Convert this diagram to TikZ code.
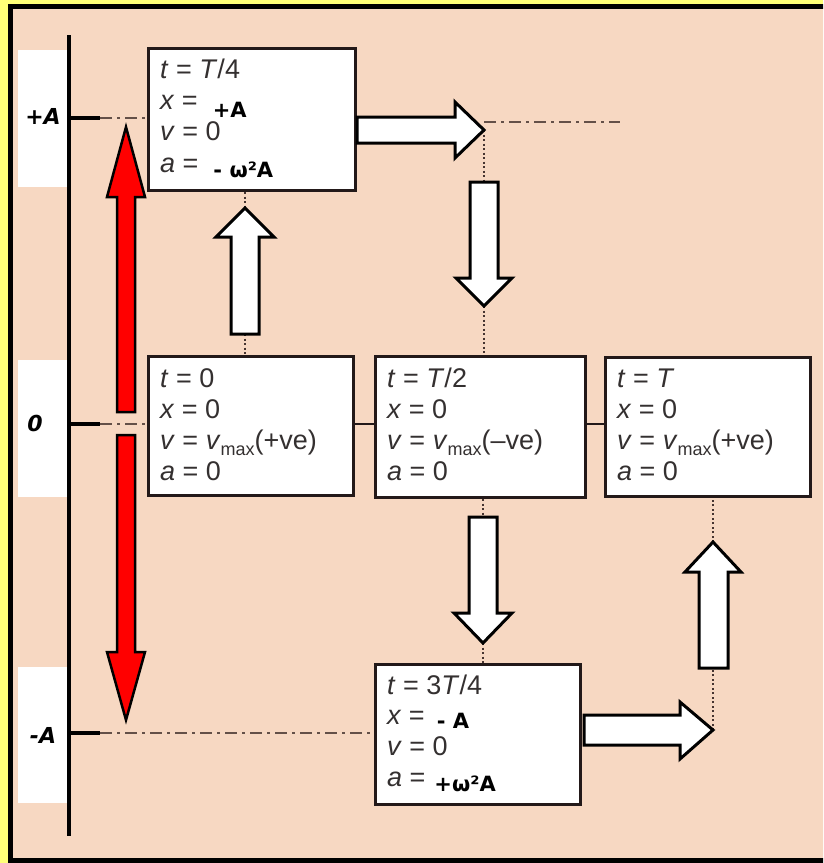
\documentclass[tikz,border=0pt]{standalone}
\usepackage{fontspec}
\setmainfont{Liberation Sans}
\newfontfamily\valfont{DejaVu Sans}
\newfontfamily\axisfont{DejaVu Sans Bold Oblique}

\definecolor{paper}{RGB}{247,216,194}
\definecolor{frameyellow}{RGB}{255,255,120}
\definecolor{ink}{RGB}{52,48,48}
\definecolor{boxline}{RGB}{35,25,25}
\definecolor{guidecol}{RGB}{100,80,72}
\definecolor{dotcol}{RGB}{70,52,48}

% bold black value written after an "=" sign
\newcommand\val[1]{{\valfont\bfseries\fontsize{21}{21}\selectfont\color{black}#1}}
\newcommand\vmax{\textit{v}\raisebox{-6pt}{\fontsize{18}{18}\selectfont max}}

\begin{document}
\begin{tikzpicture}[x=1pt,y=-1pt,
  statebox/.style={draw=boxline, line width=3.5pt, fill=white, anchor=north west, inner sep=0pt},
  txt/.style={anchor=base west, inner sep=0pt, text=ink, font=\fontsize{27}{31}\selectfont},
  axlabel/.style={font=\axisfont\fontsize{22}{22}\selectfont, text=black, inner sep=0pt},
  labelbg/.style={fill=white, draw=none, anchor=north west, inner sep=0pt, minimum width=49pt, minimum height=137pt},
  guide/.style={draw=guidecol, line width=2.5pt, dash pattern=on 12pt off 5pt on 3pt off 5pt},
  joiner/.style={draw=boxline, line width=2.5pt},
  dotline/.style={draw=dotcol, line width=2.5pt, dash pattern=on 2pt off 2.5pt},
  blockarrow/.style={draw=black, line width=3pt, fill=white, line join=miter},
  redarrow/.style={draw=black, line width=2.5pt, fill=red, line join=miter}
]
\useasboundingbox (0,0) rectangle (823,863);
\clip (0,0) rectangle (823,863);

% frame and paper
\fill[frameyellow] (0,0) rectangle (823,863);
\draw[line width=5pt, fill=paper] (10.5,6.5) rectangle (850,860.5);

% white label panels
\node[labelbg] (pA) at (18,50) {};
\node[labelbg] (p0) at (18,360) {};
\node[labelbg, minimum height=136pt] (pB) at (18,667) {};
\node[axlabel] (lA) at (43,116) {+A};
\node[axlabel] (l0) at (35,423) {0};
\node[axlabel] (lB) at (43,735) {-A};

% displacement axis with ticks
\coordinate (axTop) at (69,35);
\coordinate (axBot) at (69,836);
\draw[line width=4.5pt] (axTop) -- (axBot);
\coordinate (tkA) at (100,118);
\coordinate (tk0) at (100,424);
\coordinate (tkB) at (100,733);
\draw[line width=4.5pt] (69,118) -- (tkA);
\draw[line width=4.5pt] (69,424) -- (tk0);
\draw[line width=4.5pt] (69,733) -- (tkB);

% state boxes
\node[statebox, minimum width=207pt, minimum height=142pt] (b1) at (146.5,46.5) {};
\node[statebox, minimum width=205pt, minimum height=139pt] (b2) at (146.5,354.5) {};
\node[statebox, minimum width=210pt, minimum height=141pt] (b3) at (373.5,354.5) {};
\node[statebox, minimum width=205pt, minimum height=139pt] (b4) at (603.5,355.5) {};
\node[statebox, minimum width=205pt, minimum height=140pt] (b5) at (373.5,662.5) {};

% guide lines at +A, 0 and -A
\coordinate (gEnd) at (620,122);
\coordinate (gStart) at (484,122);
\draw[guide] (tkA) -- (tkA -| b1.west);
\draw[guide] (gStart) -- (gEnd);
\draw[guide] (tk0) -- (tk0 -| b2.west);
\draw[joiner] (tk0 -| b2.east) -- (tk0 -| b3.west);
\draw[joiner] (tk0 -| b3.east) -- (tk0 -| b4.west);
\draw[guide] (tkB) -- (tkB -| b5.west);

% arrow tips and tails
\coordinate (a1tail) at (245,334);  \coordinate (a1tip) at (245,208);
\coordinate (a2tip) at (484,130);
\coordinate (a3tail) at (484,182);  \coordinate (a3tip) at (484,306);
\coordinate (a4tail) at (483,517);  \coordinate (a4tip) at (483,643);
\coordinate (a5tip) at (713,730);
\coordinate (a6tail) at (713,668);  \coordinate (a6tip) at (713,542);

% dotted leaders
\draw[dotline] (b1.south -| a1tip) -- (a1tip);
\draw[dotline] (a1tail) -- (a1tail |- b2.north);
\draw[dotline] (a2tip) -- (a3tail);
\draw[dotline] (a3tip) -- (a3tip |- b3.north);
\draw[dotline] (a4tail |- b3.south) -- (a4tail);
\draw[dotline] (a4tip) -- (a4tip |- b5.north);
\draw[dotline] (a5tip) -- (a6tail);
\draw[dotline] (a6tip) -- (a6tip |- b4.south);

% box texts
\node[txt] (b1l1) at (160,78)  {\textit{t} = \textit{T}/4};
\node[txt] (b1l2) at (160,109) {\textit{x} =\hspace{15pt}\raisebox{-8pt}[0pt][0pt]{\val{+A}}};
\node[txt] (b1l3) at (160,140) {\textit{v} = 0};
\node[txt] (b1l4) at (160,172) {\textit{a} =\hspace{15pt}\raisebox{-5pt}[0pt][0pt]{\val{- ω²A}}};

\node[txt] (b2l1) at (160,387) {\textit{t} = 0};
\node[txt] (b2l2) at (160,418) {\textit{x} = 0};
\node[txt] (b2l3) at (160,449) {\textit{v} = \vmax(+ve)};
\node[txt] (b2l4) at (160,480) {\textit{a} = 0};

\node[txt] (b3l1) at (387,387) {\textit{t} = \textit{T}/2};
\node[txt] (b3l2) at (387,418) {\textit{x} = 0};
\node[txt] (b3l3) at (387,449) {\textit{v} = \vmax(–ve)};
\node[txt] (b3l4) at (387,480) {\textit{a} = 0};

\node[txt] (b4l1) at (617,387) {\textit{t} = \textit{T}};
\node[txt] (b4l2) at (617,418) {\textit{x} = 0};
\node[txt] (b4l3) at (617,449) {\textit{v} = \vmax(+ve)};
\node[txt] (b4l4) at (617,480) {\textit{a} = 0};

\node[txt] (b5l1) at (387,694) {\textit{t} = 3\textit{T}/4};
\node[txt] (b5l2) at (387,724) {\textit{x} =\hspace{12pt}\raisebox{-4pt}[0pt][0pt]{\val{- A}}};
\node[txt] (b5l3) at (387,755) {\textit{v} = 0};
\node[txt] (b5l4) at (387,786) {\textit{a} =\hspace{9pt}\raisebox{-5pt}[0pt][0pt]{\val{+ω²A}}};

% red double arrow between +A and -A
\draw[redarrow] (117,412) -- (117,197) -- (107,197) -- (126,127) -- (145,197) -- (135,197) -- (135,412) -- cycle;
\draw[redarrow] (117,435) -- (117,652) -- (107,652) -- (126,720) -- (145,652) -- (135,652) -- (135,435) -- cycle;

% white block arrows of the cycle
\draw[blockarrow] (231,334) -- (231,237) -- (216,237) -- (a1tip) -- (274,237) -- (259,237) -- (259,334) -- cycle;
\draw[blockarrow] (357,117) -- (455,117) -- (455,102) -- (a2tip) -- (455,158) -- (455,143) -- (357,143) -- cycle;
\draw[blockarrow] (470,182) -- (470,278) -- (456,278) -- (a3tip) -- (512,278) -- (498,278) -- (498,182) -- cycle;
\draw[blockarrow] (469,517) -- (469,613) -- (454,613) -- (a4tip) -- (512,613) -- (497,613) -- (497,517) -- cycle;
\draw[blockarrow] (584,715) -- (680,715) -- (680,702) -- (a5tip) -- (680,759) -- (680,745) -- (584,745) -- cycle;
\draw[blockarrow] (699,668) -- (699,572) -- (685,572) -- (a6tip) -- (741,572) -- (728,572) -- (728,668) -- cycle;
\end{tikzpicture}
\end{document}
